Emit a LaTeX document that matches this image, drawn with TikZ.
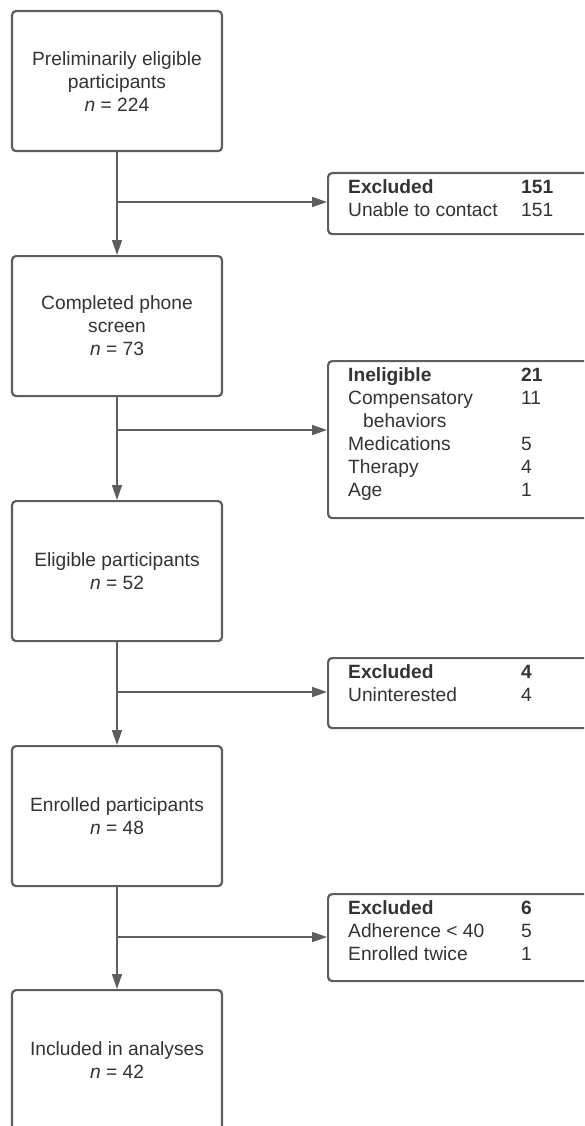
\documentclass[tikz,border=0pt]{standalone}
\usepackage{fontspec}
\setmainfont{Liberation Sans}
\usetikzlibrary{arrows.meta}
\definecolor{linegray}{HTML}{5E5E5E}
\definecolor{txtgray}{HTML}{333333}
\begin{document}
\begin{tikzpicture}[x=1pt,y=-1pt,
  mainbox/.style={draw=linegray, line width=2.2pt, rounded corners=4pt, minimum width=210pt, minimum height=140pt, anchor=north, align=center, text=txtgray, font=\fontsize{19.2}{23}\selectfont, inner sep=0pt},
  sidebox/.style={draw=linegray, line width=2.2pt, rounded corners=4pt, minimum width=300pt, anchor=north west, inner sep=0pt},
  sidetext/.style={anchor=north west, inner sep=0pt, text=txtgray, font=\fontsize{19.2}{23}\selectfont},
  conn/.style={draw=linegray, line width=1.5pt, -{Triangle[length=15pt,width=10pt]}}
]
\useasboundingbox (0,0) rectangle (584,1126);
\fill[white] (0,0) rectangle (584,1126);
\clip (0,0) rectangle (584,1126);

% main column
\node[mainbox] (b1) at (117,10) {Preliminarily eligible\\participants\\\textit{n} = 224};
\node[mainbox] (b2) at (117,255) {Completed phone\\screen\\\textit{n} = 73};
\node[mainbox] (b3) at (117,500) {Eligible participants\\\textit{n} = 52};
\node[mainbox] (b4) at (117,745) {Enrolled participants\\\textit{n} = 48};
\node[mainbox] (b5) at (117,989) {Included in analyses\\\textit{n} = 42};

% side boxes
\node[sidebox, minimum height=61pt] (r1) at (327,172) {};
\node[sidebox, minimum height=157pt] (r2) at (327,360) {};
\node[sidebox, minimum height=70pt] (r3) at (327,657) {};
\node[sidebox, minimum height=87pt] (r4) at (327,893) {};

\node[sidetext] (t1) at ([xshift=21pt,yshift=-5.5pt]r1.north west) {%
\begin{tabular}{@{}p{173pt}@{}l@{}}
\textbf{Excluded} & \textbf{151}\\
Unable to contact & 151
\end{tabular}};
\node[sidetext] (t2) at ([xshift=21pt,yshift=-5pt]r2.north west) {%
\begin{tabular}{@{}p{173pt}@{}l@{}}
\textbf{Ineligible} & \textbf{21}\\
Compensatory & 11\\
\hspace*{15pt}behaviors & \\
Medications & 5\\
Therapy & 4\\
Age & 1
\end{tabular}};
\node[sidetext] (t3) at ([xshift=21pt,yshift=-5.5pt]r3.north west) {%
\begin{tabular}{@{}p{173pt}@{}l@{}}
\textbf{Excluded} & \textbf{4}\\
Uninterested & 4
\end{tabular}};
\node[sidetext] (t4) at ([xshift=21pt,yshift=-5pt]r4.north west) {%
\begin{tabular}{@{}p{173pt}@{}l@{}}
\textbf{Excluded} & \textbf{6}\\
Adherence < 40 & 5\\
Enrolled twice & 1
\end{tabular}};

% junctions
\coordinate (j1) at (117,202);
\coordinate (j2) at (117,430);
\coordinate (j3) at (117,692);
\coordinate (j4) at (117,937);

\draw[conn] (b1.south) -- (b2.north);
\draw[conn] (b2.south) -- (b3.north);
\draw[conn] (b3.south) -- (b4.north);
\draw[conn] (b4.south) -- (b5.north);

\draw[conn] (j1) -- (j1 -| r1.west);
\draw[conn] (j2) -- (j2 -| r2.west);
\draw[conn] (j3) -- (j3 -| r3.west);
\draw[conn] (j4) -- (j4 -| r4.west);
\end{tikzpicture}
\end{document}
